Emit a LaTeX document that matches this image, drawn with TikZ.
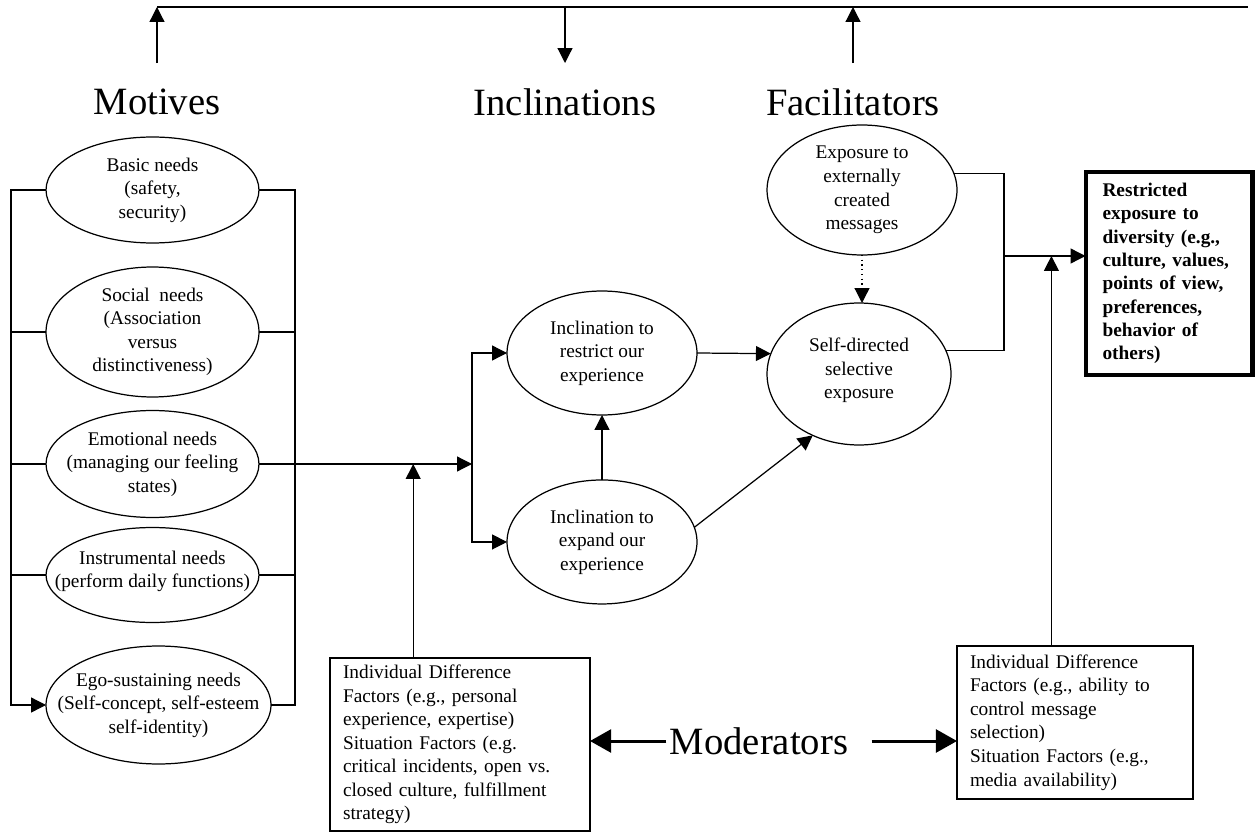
\documentclass[tikz,border=0pt]{standalone}
\usepackage{fontspec}
\setmainfont{Liberation Serif}
\usetikzlibrary{positioning,arrows.meta,shapes.geometric,calc}

\begin{document}
\begin{tikzpicture}[
    x=0.02cm, y=-0.02cm,
    >={Triangle[length=8.5pt,width=8.5pt]},
    font={\fontsize{11}{13.4}\selectfont},
    line width=0.7pt,
    base/.style={inner sep=0pt,outer sep=0pt,align=center},
    heading/.style={base,font={\fontsize{22}{26}\selectfont},minimum height=1.56cm},
    need/.style={base,ellipse,draw,minimum width=4.26cm},
    txt/.style={base},
    modbox/.style={rectangle,draw,align=left,inner xsep=0.26cm,inner ysep=0pt,outer sep=0pt},
    result/.style={rectangle,draw,line width=2.3pt,font={\fontsize{11}{13.3}\selectfont\bfseries},align=left,text width=2.66cm,inner xsep=0.34cm,minimum height=4.06cm,outer sep=0pt},
    bigarrow/.style={line width=1.7pt,-{Triangle[length=12pt,width=13pt]}},
]
    \useasboundingbox (0,0) rectangle (1256,834);

    % headings
    \node[heading] (motives) at (157,102) {Motives};
    \node[heading] (incl)    at (565,102) {Inclinations};
    \node[heading] (facil)   at (853,102) {Facilitators};
    \coordinate (topr) at (1248,7);

    % needs
    \node[need,minimum height=2.12cm] (basic)        at (152.5,190) {};
    \node[need,minimum height=2.6cm]  (social)       at (152.5,332) {};
    \node[need,minimum height=2.14cm] (emotional)    at (152.5,464) {};
    \node[need,minimum height=1.9cm]  (instrumental) at (152.5,575) {};
    \node[need,minimum width=4.5cm,minimum height=2.36cm] (ego) at (158.5,705) {};
    \node[txt] (basictxt)        at (basic)        {Basic needs\\(safety,\\security)};
    \node[txt] (socialtxt)       at (social)       {Social~ needs\\(Association\\versus\\distinctiveness)};
    \node[txt] (emotionaltxt)    at (emotional)    {Emotional needs\\(managing our feeling\\states)};
    \node[txt] (instrumentaltxt) at ([yshift=2pt]instrumental) {Instrumental needs\\(perform daily functions)};
    \node[txt] (egotxt)          at (ego)          {Ego-sustaining needs\\(Self-concept, self-esteem\\self-identity)};

    % inclinations
    \node[need,minimum width=3.8cm,minimum height=2.48cm] (restrict) at (602,353) {};
    \node[need,minimum width=3.8cm,minimum height=2.48cm,below=1.3cm of restrict] (expand) {};
    \node[txt] (restricttxt) at (restrict) {Inclination to\\restrict our\\experience};
    \node[txt] (expandtxt)   at (expand)   {Inclination to\\expand our\\experience};

    % facilitators
    \node[need,minimum width=3.8cm,minimum height=2.6cm]   (extern)  at (862,190) {};
    \node[need,minimum width=3.68cm,minimum height=2.84cm] (selfdir) at (859,374) {};
    \node[txt] (externtxt)  at (extern)  {Exposure to\\externally\\created\\messages};
    \node[txt] (selfdirtxt) at ([yshift=2pt]selfdir) {Self-directed\\selective\\exposure};

    \node[result] (restricted) at (1169,273.5) {Restricted\\exposure to\\diversity (e.g.,\\culture, values,\\points of view,\\preferences,\\behavior of\\others)};

    % moderators
    \node[modbox,text width=4.68cm,minimum height=3.46cm] (modleft) at (460,744.5)
        {Individual Difference\\Factors (e.g., personal\\experience, expertise)\\Situation Factors (e.g.\\critical incidents, open vs.\\closed culture, fulfillment\\strategy)};
    \node[modbox,text width=4.2cm,minimum height=3.06cm] (modright) at (1075,722.5)
        {Individual Difference\\Factors (e.g., ability to\\control message\\selection)\\Situation Factors (e.g.,\\media availability)};
    \node[heading,minimum height=0pt,inner xsep=2pt] (moder) at (759,741) {Moderators};

    % top bar
    \draw (motives.north |- topr) -- (topr);
    \draw[->] (motives.north) -- (motives.north |- topr);
    \draw[->] (incl.north |- topr) -- (incl.north);
    \draw[->] (facil.north) -- (facil.north |- topr);

    % buses round the needs
    \coordinate (lbus) at (11,0);
    \coordinate (rbus) at (295,0);
    \draw[->] (basic.west) -| (lbus |- ego.west) -- (ego.west);
    \draw (basic.east) -| (rbus |- ego.east) -- (ego.east);
    \foreach \n in {social,emotional,instrumental} {
        \draw (\n.west) -- (\n.west -| lbus);
        \draw (\n.east) -- (\n.east -| rbus);
    }

    % split to inclinations
    \coordinate (split) at (472,0);
    \draw[->] (emotional.east) -- (emotional.east -| split);
    \draw[->] (split |- emotional.east) |- (restrict.west);
    \draw[->] (split |- emotional.east) |- (expand.west);
    \coordinate (modlup) at ($(modleft.north west)!0.32!(modleft.north east)$);
    \draw[->] (modlup) -- (modlup |- emotional.east);

    \draw[->] (expand.north) -- (restrict.south);
    \draw[->] (restrict.east) -- (selfdir.167);
    \draw[->] (expand.9) -- (selfdir.233);
    \draw[->,dotted] (extern.south) -- (extern.south |- selfdir.north);

    % join to result
    \coordinate (join) at (1004,256);
    \draw (extern.10) -| (join);
    \draw (selfdir.15) -| (join);
    \draw[->] (join) -- (join -| restricted.west);
    \coordinate (modrup) at ($(modright.north west)!0.40!(modright.north east)$);
    \draw[->] (modrup) -- (modrup |- join);

    \draw[bigarrow] (moder.west) -- (moder.west -| modleft.east);
    \draw[bigarrow] ([xshift=0.4cm]moder.east) -- (moder.east -| modright.west);

\end{tikzpicture}
\end{document}
